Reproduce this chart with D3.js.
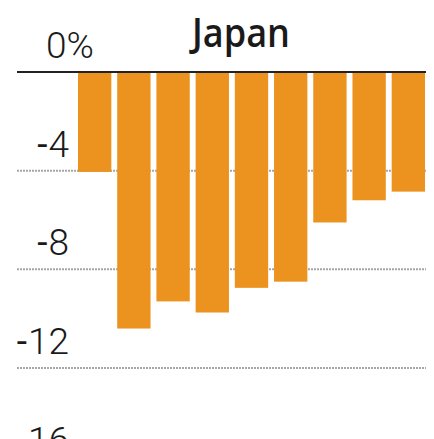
<!DOCTYPE html>
<html>
<head>
<meta charset="utf-8">
<script src="https://cdn.jsdelivr.net/npm/d3@7"></script>
<style>
  html, body { margin: 0; padding: 0; background: #ffffff; }
  svg { display: block; }
</style>
</head>
<body>
<svg id="chart" width="434" height="439"></svg>
<script>
// Annual change, percent (nine periods)
const periods = ["p1", "p2", "p3", "p4", "p5", "p6", "p7", "p8", "p9"];
const changes = [-4.05, -10.4, -9.3, -9.75, -8.75, -8.5, -6.1, -5.2, -4.85];
const tickValues = [0, -4, -8, -12, -16];
const title = "Japan";

const svg = d3.select("#chart");
const left = 17, right = 426;

const y = d3.scaleLinear().domain([0, -12]).range([72, 368]);
const x = d3.scaleBand()
  .domain(periods)
  .range([78, 425])
  .paddingInner(0.15)
  .paddingOuter(0);

// gridlines
svg.append("g").selectAll("line")
  .data(tickValues.filter(d => d !== 0))
  .join("line")
  .attr("x1", left).attr("x2", right)
  .attr("y1", d => y(d)).attr("y2", d => y(d))
  .attr("stroke", "#a6a6a6")
  .attr("stroke-width", 2)
  .attr("stroke-dasharray", "2,1");

// bars
svg.append("g").selectAll("rect")
  .data(changes)
  .join("rect")
  .attr("x", (d, i) => x(periods[i]))
  .attr("width", x.bandwidth())
  .attr("y", y(0))
  .attr("height", d => y(d) - y(0))
  .attr("fill", "#EC921E");

// zero line
svg.append("line")
  .attr("x1", left).attr("x2", right)
  .attr("y1", y(0)).attr("y2", y(0))
  .attr("stroke", "#222")
  .attr("stroke-width", 2);

// tick labels
const labels = svg.append("g").selectAll("text")
  .data(tickValues)
  .join("text")
  .attr("x", d => d === 0 ? 46 : 69)
  .attr("y", d => y(d) - 14)
  .attr("text-anchor", d => d === 0 ? "start" : "end")
  .attr("font-family", "Roboto, 'Liberation Sans', sans-serif")
  .attr("font-weight", 300)
  .attr("font-size", 37)
  .attr("fill", "#1a1a1a");
labels.filter(d => d === 0).text("0%");
labels.filter(d => d !== 0).each(function (d) {
  const t = d3.select(this);
  t.append("tspan").attr("dx", 0).attr("font-size", 37).attr("font-weight", 400).text("-");
  t.append("tspan").attr("dx", 1).text(Math.abs(d));
});

// title
svg.append("text")
  .attr("x", 192)
  .attr("y", 47)
  .attr("textLength", 98)
  .attr("lengthAdjust", "spacingAndGlyphs")
  .attr("font-family", "'Open Sans', 'Liberation Sans', sans-serif")
  .attr("font-weight", 600)
  .attr("font-size", 40)
  .attr("fill", "#1a1a1a")
  .text(title);
</script>
</body>
</html>
